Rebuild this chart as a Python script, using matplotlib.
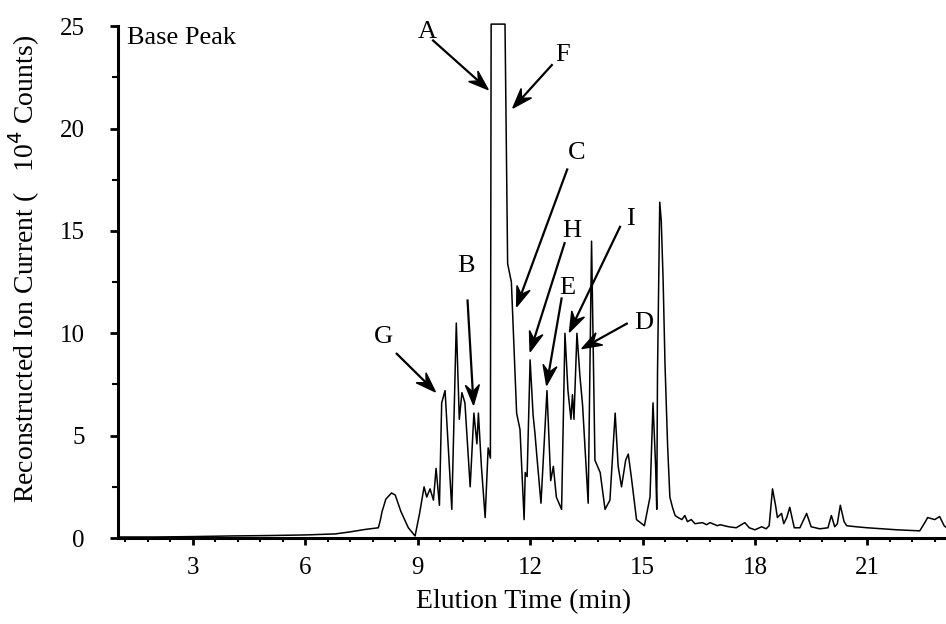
import matplotlib
matplotlib.use('Agg')
import numpy as np
import matplotlib.pyplot as plt
from matplotlib.patches import Polygon
from matplotlib.ticker import MultipleLocator

plt.rcParams['font.family'] = ['Liberation Serif', 'DejaVu Serif']

# chromatogramme (temps en min, intensite en 10^4 coups)
temps = [1.0, 2.0, 3.0, 4.0, 5.0, 6.0, 6.8, 7.2, 7.6, 7.95,
         8.0, 8.05, 8.15, 8.3, 8.4, 8.55, 8.75, 8.93, 9.05, 9.11,
         9.17, 9.24, 9.33, 9.42, 9.49, 9.58, 9.64, 9.73, 9.91, 10.03,
         10.11, 10.18, 10.26, 10.4, 10.5, 10.58, 10.62, 10.7, 10.8, 10.88,
         10.94, 10.96, 11.33, 11.4, 11.5, 11.64, 11.73, 11.84, 11.87, 11.92,
         12.0, 12.08, 12.13, 12.18, 12.29, 12.37, 12.45, 12.55, 12.62, 12.7,
         12.84, 12.93, 13.01, 13.09, 13.13, 13.17, 13.25, 13.33, 13.4, 13.55,
         13.64, 13.73, 13.8, 13.87, 14.0, 14.13, 14.27, 14.35, 14.44, 14.55,
         14.62, 14.7, 14.84, 15.05, 15.2, 15.28, 15.35, 15.38, 15.4, 15.46,
         15.5, 15.55, 15.6, 15.67, 15.73, 15.8, 15.87, 15.95, 16.05, 16.13,
         16.2, 16.3, 16.4, 16.6, 16.71, 16.8, 17.0, 17.07, 17.3, 17.5,
         17.73, 17.85, 18.0, 18.18, 18.3, 18.38, 18.47, 18.55, 18.6, 18.71,
         18.77, 18.85, 18.93, 19.05, 19.2, 19.38, 19.5, 19.73, 19.95, 20.04,
         20.13, 20.2, 20.28, 20.38, 20.45, 20.7, 21.0, 21.4, 21.8, 22.4,
         22.55, 22.61, 22.8, 22.93, 23.05, 23.15]
intensite = [0.05, 0.05, 0.07, 0.1, 0.12, 0.15, 0.2, 0.3, 0.42, 0.5,
             0.85, 1.3, 1.9, 2.2, 2.1, 1.3, 0.5, 0.1, 1.2, 1.85,
             2.5, 2.0, 2.4, 1.85, 3.4, 1.6, 6.6, 7.2, 1.4, 10.5,
             5.8, 7.1, 6.6, 2.5, 6.1, 4.6, 6.1, 3.5, 1.0, 4.4,
             3.9, 25.1, 25.1, 13.4, 12.5, 6.1, 5.3, 0.9, 3.2, 3.0,
             8.7, 6.0, 5.1, 4.0, 1.7, 4.5, 7.2, 2.8, 3.5, 2.0,
             1.4, 10.0, 7.2, 5.8, 7.0, 5.8, 10.0, 7.9, 6.5, 1.7,
             14.5, 3.8, 3.5, 3.2, 1.4, 1.85, 6.1, 3.5, 2.5, 3.8,
             4.1, 3.0, 0.9, 0.6, 2.0, 6.6, 3.5, 1.4, 8.0, 16.4,
             15.5, 12.6, 8.5, 4.5, 2.0, 1.5, 1.1, 1.0, 0.9, 1.1,
             0.8, 0.9, 0.7, 0.75, 0.65, 0.75, 0.6, 0.65, 0.55, 0.5,
             0.75, 0.5, 0.4, 0.55, 0.45, 0.6, 2.4, 1.6, 1.0, 1.2,
             0.7, 1.0, 1.5, 0.5, 0.5, 1.2, 0.55, 0.45, 0.5, 1.1,
             0.55, 0.7, 1.6, 0.8, 0.6, 0.55, 0.5, 0.45, 0.4, 0.35,
             0.8, 1.0, 0.9, 1.05, 0.6, 0.45]

# etiquettes des pics : lettre, position du texte, debut et pointe de la fleche
lettres = ['A', 'F', 'C', 'H', 'E', 'I', 'D', 'B', 'G']
pos_texte = [(9.25, 24.7), (12.87, 23.6), (13.24, 18.8), (13.11, 15.0), (12.98, 12.2),
             (14.67, 15.6), (15.02, 10.5), (10.29, 13.3), (8.09, 9.8)]
queue = [(9.41, 24.3), (12.58, 23.1), (12.99, 18.0), (12.92, 14.4), (12.84, 11.7),
         (14.4, 15.2), (14.58, 10.47), (10.33, 11.6), (8.44, 9.0)]
pointe = [(10.88, 21.9), (11.54, 21.0), (11.64, 11.3), (12.0, 9.1), (12.44, 7.46),
          (13.05, 10.06), (13.38, 9.25), (10.49, 6.5), (9.47, 7.14)]

fig = plt.figure(figsize=(9.46, 6.24), dpi=100)
ax = fig.add_axes([0.1247, 0.1378, 0.8753, 0.8203])

ax.plot(temps, intensite, color='black', lw=1.1, clip_on=False)

ax.set_xlim(1.0, 23.1)
ax.set_ylim(0, 25)

# fleches avec pointe barbelee (calculee en pixels)
L, W = 20.0, 7.0
for lettre, t, q, p in zip(lettres, pos_texte, queue, pointe):
    ax.text(t[0], t[1], lettre, fontsize=19, ha='center', va='center')
    qp = ax.transData.transform(q)
    pp = ax.transData.transform(p)
    u = (qp - pp) / np.hypot(*(qp - pp))
    n = np.array([-u[1], u[0]])
    creux = pp + 0.65 * L * u
    ax.plot([q[0], ax.transData.inverted().transform(creux)[0]],
            [q[1], ax.transData.inverted().transform(creux)[1]],
            color='black', lw=1.6)
    tete = [pp, pp + L * u + W * n, creux, pp + L * u - W * n]
    ax.add_patch(Polygon(tete, closed=True, color='black', transform=None))

ax.text(1.25, 24.95, 'Base Peak', fontsize=19, ha='left', va='top')

ax.xaxis.set_major_locator(MultipleLocator(3))
ax.xaxis.set_minor_locator(MultipleLocator(0.6))
ax.yaxis.set_major_locator(MultipleLocator(5))
ax.yaxis.set_minor_locator(MultipleLocator(2.5))

ax.spines['top'].set_visible(False)
ax.spines['right'].set_visible(False)
ax.spines['left'].set_linewidth(2.2)
ax.spines['bottom'].set_linewidth(2.2)

ax.tick_params(axis='x', which='major', length=5, width=2, labelsize=18, pad=9)
ax.tick_params(axis='x', which='minor', length=3, width=1.5)
ax.tick_params(axis='y', which='major', length=6, width=2, labelsize=18, pad=18)
ax.tick_params(axis='y', which='minor', length=4, width=1.5)

ax.set_xlabel('Elution Time (min)', fontsize=20)
ax.set_ylabel('Reconstructed Ion Current (   10$^4$ Counts)', fontsize=20)
ax.xaxis.set_label_coords(0.49, -0.10)
ax.yaxis.set_label_coords(-0.092, 0.525)

plt.savefig('out.png', dpi=100)
plt.close()
